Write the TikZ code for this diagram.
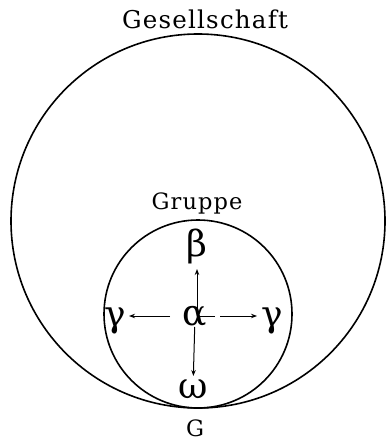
\documentclass[tikz,border=0pt]{standalone}
\usepackage{fontspec}
\setmainfont{DejaVu Serif}
\newfontfamily\labelfont[LetterSpace=5]{DejaVu Serif}
\usetikzlibrary{arrows.meta}
\begin{document}
\begin{tikzpicture}[x=1pt,y=-1pt,
  ring/.style={draw=black, line width=1.6pt},
  lbl/.style={font=\labelfont\fontsize{22.5}{26}\selectfont, inner sep=0pt},
  greek/.style={font=\fontsize{36}{40}\selectfont, inner sep=0pt},
  arr/.style={line width=1pt, -{Stealth[length=6pt,width=4.5pt]}}]
\useasboundingbox (0,0) rectangle (387,441);
\fill[white] (0,0) rectangle (387,441);
\draw[ring] (198,221) circle[radius=187];
\draw[ring] (198,314) circle[radius=94];
\node[lbl, font=\labelfont\fontsize{24.5}{28}\selectfont] (ges) at (205,19) {Gesellschaft};
\node[lbl] (gru) at (197,203) {Gruppe};
\node[lbl] (g) at (195,428) {G};
\node[greek] (a) at (195,316) {α};
\node[greek] (b) at (197,246) {β};
\node[greek] (gl) at (115,321) {γ};
\node[greek] (gr) at (272,321) {γ};
\node[greek] (w) at (193,389) {ω};
\draw[arr, shorten <=20pt, shorten >=23pt] (a.center) -- (b.center |- a.center) -- (b.center);
\draw[arr, shorten <=25pt, shorten >=14pt] (a.center) -- (gl.center |- a.center);
\draw[arr, shorten <=25pt, shorten >=15pt] (a.center) -- (gr.center |- a.center);
\draw[arr, shorten <=11pt, shorten >=13pt] (a.center) -- (w.center);
\end{tikzpicture}
\end{document}
